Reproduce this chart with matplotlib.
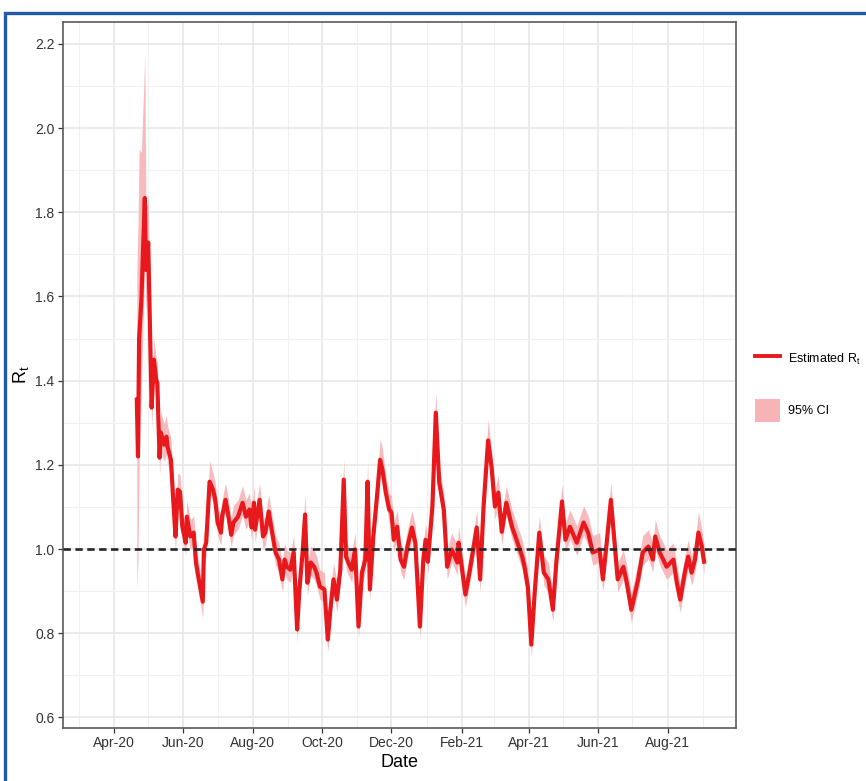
import numpy as np
import matplotlib
matplotlib.use("Agg")
import matplotlib.pyplot as plt
import matplotlib.dates as mdates
from matplotlib.lines import Line2D
from matplotlib.patches import Patch, Rectangle

plt.rcParams['font.family'] = ['Liberation Sans', 'DejaVu Sans']
plt.rcParams['mathtext.fontset'] = 'custom'
plt.rcParams['mathtext.rm'] = 'Liberation Sans'
plt.rcParams['mathtext.it'] = 'Liberation Sans'

# days after 2020-04-01 and estimated Rt
start = np.datetime64('2020-04-01')
days = [20, 21, 22, 24, 27, 28, 30, 32, 33, 35,
        37, 38, 39, 40, 41, 44, 46, 47, 50, 52,
        54, 56, 58, 60, 63, 64, 67, 70, 72, 74,
        78, 79, 81, 84, 87, 89, 91, 94, 95, 98,
        100, 103, 105, 109, 113, 116, 119, 121, 123, 124,
        128, 131, 133, 136, 139, 142, 145, 148, 150, 152,
        155, 158, 161, 163, 166, 168, 170, 173, 176, 178,
        181, 185, 188, 190, 193, 196, 199, 202, 204, 206,
        209, 212, 215, 218, 221, 223, 225, 228, 231, 234,
        236, 239, 242, 244, 246, 249, 252, 255, 258, 262,
        265, 269, 272, 274, 276, 280, 283, 286, 290, 293,
        297, 302, 303, 309, 313, 319, 322, 325, 329, 332,
        335, 338, 341, 345, 350, 353, 359, 361, 364, 367,
        370, 374, 378, 382, 386, 389, 394, 397, 401, 407,
        413, 417, 421, 427, 430, 433, 437, 440, 443, 448,
        451, 455, 461, 465, 470, 474, 476, 480, 486, 492,
        495, 498, 502, 505, 508, 511, 514, 517, 519]
rt = [1.355, 1.220, 1.500, 1.592, 1.834, 1.663, 1.728, 1.466, 1.336, 1.450,
      1.402, 1.395, 1.307, 1.217, 1.277, 1.248, 1.267, 1.243, 1.212, 1.117,
      1.030, 1.141, 1.136, 1.053, 1.015, 1.077, 1.030, 1.039, 0.968, 0.935,
      0.875, 0.999, 1.015, 1.160, 1.141, 1.117, 1.063, 1.039, 1.077, 1.117,
      1.087, 1.034, 1.063, 1.077, 1.110, 1.077, 1.094, 1.051, 1.110, 1.046,
      1.117, 1.030, 1.039, 1.089, 1.039, 0.992, 0.975, 0.928, 0.975, 0.958,
      0.951, 0.992, 0.809, 0.904, 0.999, 1.082, 0.920, 0.968, 0.958, 0.944,
      0.911, 0.904, 0.785, 0.849, 0.928, 0.880, 0.951, 1.165, 0.982, 0.968,
      0.951, 0.999, 0.816, 0.944, 0.975, 1.160, 0.904, 1.030, 1.117, 1.212,
      1.189, 1.134, 1.094, 1.087, 1.022, 1.053, 0.975, 0.958, 1.006, 1.051,
      1.015, 0.816, 0.975, 1.022, 0.970, 1.101, 1.324, 1.158, 1.094, 0.958,
      0.999, 0.968, 1.015, 0.892, 0.951, 1.051, 0.928, 1.101, 1.258, 1.196,
      1.101, 1.134, 1.041, 1.110, 1.053, 1.030, 0.982, 0.958, 0.909, 0.773,
      0.897, 1.039, 0.944, 0.928, 0.856, 0.968, 1.113, 1.022, 1.053, 1.015,
      1.063, 1.039, 0.992, 0.999, 0.928, 1.006, 1.117, 1.022, 0.928, 0.958,
      0.920, 0.856, 0.928, 0.992, 1.006, 0.975, 1.030, 0.992, 0.958, 0.975,
      0.920, 0.880, 0.944, 0.982, 0.944, 0.975, 1.039, 1.006, 0.970]
# 95% CI distance below / above the estimate
ci_below = [0.45, 0.25, 0.30, 0.20, 0.15, 0.10, 0.08, 0.06, 0.05, 0.05,
            0.05, 0.04, 0.04, 0.04, 0.04, 0.04, 0.04, 0.04, 0.04, 0.04,
            0.04, 0.03, 0.03, 0.03, 0.03, 0.03, 0.03, 0.03, 0.03, 0.03,
            0.04, 0.03, 0.03, 0.03, 0.03, 0.03, 0.03, 0.03, 0.03, 0.03,
            0.03, 0.03, 0.03, 0.03, 0.03, 0.03, 0.03, 0.03, 0.03, 0.03,
            0.03, 0.03, 0.03, 0.03, 0.03, 0.03, 0.03, 0.03, 0.03, 0.03,
            0.03, 0.03, 0.03, 0.03, 0.03, 0.03, 0.03, 0.03, 0.03, 0.03,
            0.03, 0.03, 0.03, 0.03, 0.03, 0.03, 0.03, 0.03, 0.03, 0.03,
            0.03, 0.03, 0.03, 0.03, 0.03, 0.03, 0.03, 0.03, 0.03, 0.03,
            0.03, 0.03, 0.03, 0.03, 0.03, 0.03, 0.03, 0.03, 0.03, 0.03,
            0.03, 0.03, 0.03, 0.03, 0.03, 0.03, 0.03, 0.03, 0.03, 0.03,
            0.03, 0.03, 0.03, 0.03, 0.03, 0.03, 0.03, 0.03, 0.03, 0.03,
            0.03, 0.03, 0.03, 0.03, 0.03, 0.03, 0.03, 0.03, 0.03, 0.03,
            0.03, 0.03, 0.03, 0.03, 0.03, 0.03, 0.03, 0.03, 0.03, 0.03,
            0.03, 0.03, 0.03, 0.03, 0.03, 0.03, 0.03, 0.03, 0.03, 0.03,
            0.03, 0.03, 0.03, 0.03, 0.03, 0.03, 0.03, 0.03, 0.03, 0.03,
            0.03, 0.03, 0.03, 0.03, 0.03, 0.03, 0.03, 0.03, 0.03]
ci_above = [0.30, 0.55, 0.45, 0.35, 0.34, 0.15, 0.10, 0.08, 0.06, 0.05,
            0.05, 0.05, 0.05, 0.05, 0.05, 0.05, 0.05, 0.05, 0.05, 0.04,
            0.04, 0.04, 0.04, 0.04, 0.04, 0.04, 0.04, 0.04, 0.04, 0.04,
            0.03, 0.04, 0.04, 0.05, 0.04, 0.04, 0.04, 0.04, 0.04, 0.04,
            0.04, 0.04, 0.04, 0.04, 0.04, 0.04, 0.04, 0.04, 0.04, 0.04,
            0.04, 0.04, 0.04, 0.04, 0.04, 0.04, 0.04, 0.04, 0.04, 0.04,
            0.04, 0.04, 0.03, 0.04, 0.04, 0.05, 0.04, 0.04, 0.04, 0.04,
            0.04, 0.04, 0.03, 0.04, 0.04, 0.04, 0.04, 0.05, 0.04, 0.04,
            0.04, 0.04, 0.03, 0.04, 0.04, 0.05, 0.04, 0.04, 0.04, 0.05,
            0.05, 0.04, 0.04, 0.04, 0.04, 0.04, 0.04, 0.04, 0.04, 0.04,
            0.04, 0.03, 0.04, 0.04, 0.04, 0.04, 0.05, 0.04, 0.04, 0.04,
            0.04, 0.04, 0.04, 0.04, 0.04, 0.04, 0.04, 0.04, 0.05, 0.04,
            0.04, 0.04, 0.04, 0.04, 0.04, 0.04, 0.04, 0.04, 0.04, 0.03,
            0.04, 0.04, 0.04, 0.04, 0.04, 0.04, 0.04, 0.04, 0.04, 0.04,
            0.04, 0.04, 0.04, 0.04, 0.04, 0.04, 0.04, 0.04, 0.04, 0.04,
            0.04, 0.04, 0.04, 0.04, 0.04, 0.04, 0.04, 0.04, 0.04, 0.04,
            0.04, 0.04, 0.04, 0.04, 0.04, 0.04, 0.05, 0.04, 0.04]

dates = start + np.array(days).astype('timedelta64[D]')
rt = np.array(rt)
lower = rt - np.array(ci_below)
upper = rt + np.array(ci_above)

red = '#e8191c'
pink = '#f7b4b7'

fig = plt.figure(figsize=(8.66, 7.81), dpi=100)
ax = fig.add_axes([0.0727, 0.0679, 0.7771, 0.9039])

ax.fill_between(dates, lower, upper, color=pink, linewidth=0, alpha=0.9, zorder=2)
ax.plot(dates, rt, color=red, linewidth=3.0, zorder=3)
ax.axhline(1.0, color='#262626', linewidth=1.9, dashes=(2.8, 1.7), zorder=4)

ax.set_xlim(np.datetime64('2020-02-16'), np.datetime64('2021-09-30'))
ax.set_ylim(0.575, 2.252)
ax.set_yticks([0.6, 0.8, 1.0, 1.2, 1.4, 1.6, 1.8, 2.0, 2.2])
ax.set_yticks(np.arange(0.7, 2.25, 0.2), minor=True)
ax.xaxis.set_major_locator(mdates.MonthLocator(bymonth=(2, 4, 6, 8, 10, 12)))
ax.xaxis.set_minor_locator(mdates.MonthLocator())
ax.xaxis.set_major_formatter(mdates.DateFormatter('%b-%y'))

ax.grid(which='major', color='#e6e6e6', linewidth=1.1, zorder=0)
ax.grid(which='minor', color='#f0f0f0', linewidth=0.8, zorder=0)
ax.set_axisbelow(True)
ax.tick_params(which='major', length=3.5, width=0.9, color='#333333',
               labelsize=10, labelcolor='#333333', pad=2.5)
ax.tick_params(which='minor', length=0)
for s in ax.spines.values():
    s.set_color('#5a5a5a')
    s.set_linewidth(1.2)

ax.set_xlabel('Date', fontsize=13, labelpad=3)
ax.set_ylabel(r'$\mathregular{R_t}$', fontsize=13, labelpad=3)

handles = [Line2D([0], [0], color=red, linewidth=2.8),
           Patch(facecolor=pink, edgecolor='none')]
fig.legend(handles, [r'Estimated $\mathregular{R_t}$', '95% CI'],
           loc='upper left', bbox_to_anchor=(755 / 866, 1 - 348 / 781),
           frameon=False, fontsize=9, borderpad=0, borderaxespad=0,
           handlelength=2.0, handleheight=2.4, labelspacing=2.3,
           handletextpad=0.6)

# blue frame around the figure
fig.patches.append(Rectangle((5 / 866, -0.02), 1.1, 1 - 12.5 / 781 + 0.02,
                             transform=fig.transFigure, fill=False,
                             edgecolor='#1f5ba8', linewidth=2.4))

fig.savefig('out.png', dpi=100)
